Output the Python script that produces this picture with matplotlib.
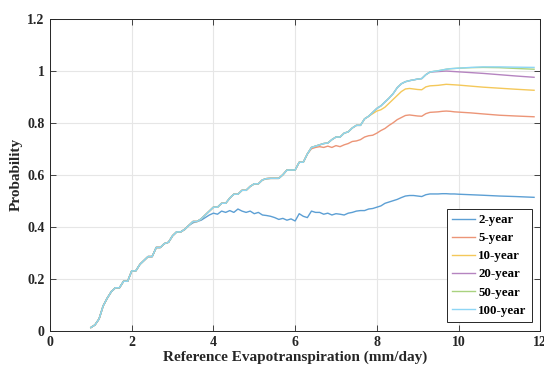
import matplotlib
matplotlib.use("Agg")
import matplotlib.pyplot as plt
import numpy as np

# ET0 sample grid (mm/day): fine steps up to 10, coarser along the flat tail
et0 = [round(1.0 + 0.1 * i, 1) for i in range(91)] + [10.3, 10.6, 11.0, 11.4, 11.85]

# probability shared by every return period at low ET0 (1.0 .. 3.4)
shared_low = [0.012, 0.022, 0.045, 0.095, 0.125, 0.15, 0.165, 0.165, 0.19, 0.19,
              0.23, 0.23, 0.255, 0.27, 0.285, 0.285, 0.32, 0.32, 0.335, 0.34,
              0.365, 0.38, 0.38, 0.39, 0.405]
# 3.5 .. 6.3
shared_mid = [0.42, 0.42, 0.43, 0.445, 0.46, 0.475, 0.475, 0.49, 0.49, 0.51,
              0.525, 0.525, 0.54, 0.54, 0.555, 0.565, 0.565, 0.58, 0.585, 0.586,
              0.586, 0.586, 0.60, 0.618, 0.618, 0.618, 0.648, 0.648, 0.68]
# 6.4 .. 7.8
shared_upper = [0.705, 0.71, 0.715, 0.72, 0.722, 0.735, 0.745, 0.745, 0.76, 0.765,
                0.78, 0.79, 0.79, 0.815, 0.825]
# 7.9 .. 9.3
shared_top = [0.84, 0.855, 0.865, 0.88, 0.895, 0.912, 0.935, 0.95, 0.958, 0.962,
              0.965, 0.968, 0.97, 0.985, 0.995]
# 9.4 .. 10.0
shared_peak = [0.998, 1.0, 1.003, 1.006, 1.008, 1.009, 1.01]

p_2yr = shared_low + [
    0.415, 0.42, 0.425, 0.435, 0.445, 0.452, 0.448, 0.46, 0.455, 0.462,
    0.455, 0.468, 0.46, 0.455, 0.46, 0.45, 0.455, 0.445, 0.443, 0.44,
    0.435, 0.428, 0.432, 0.425, 0.43, 0.422, 0.45, 0.44, 0.435, 0.46,
    0.455, 0.455, 0.448, 0.452, 0.445, 0.45, 0.448, 0.445, 0.452, 0.455,
    0.46, 0.462, 0.462, 0.468, 0.47, 0.475, 0.48, 0.49, 0.495, 0.50,
    0.505, 0.512, 0.518, 0.52, 0.52, 0.518, 0.516, 0.523, 0.526, 0.526,
    0.526, 0.527, 0.527, 0.526, 0.526, 0.525,
    0.523, 0.521, 0.518, 0.516, 0.513]
p_5yr = shared_low + shared_mid + [
    0.70, 0.705, 0.708, 0.705, 0.71, 0.705, 0.712, 0.708, 0.715, 0.72,
    0.728, 0.73, 0.735, 0.745, 0.75, 0.752, 0.76, 0.77, 0.778, 0.79,
    0.80, 0.812, 0.82, 0.828, 0.83, 0.828, 0.826, 0.825, 0.835, 0.84,
    0.841, 0.842, 0.844, 0.845, 0.844, 0.842, 0.841,
    0.838, 0.834, 0.829, 0.826, 0.823]
p_10yr = shared_low + shared_mid + shared_upper + [
    0.835, 0.845, 0.85, 0.86, 0.875, 0.89, 0.905, 0.92, 0.93, 0.932,
    0.93, 0.928, 0.927, 0.938, 0.942,
    0.943, 0.944, 0.946, 0.948, 0.947, 0.946, 0.945,
    0.941, 0.937, 0.933, 0.929, 0.925]
p_20yr = shared_low + shared_mid + shared_upper + shared_top + [
    0.996, 0.997, 0.998, 0.999, 0.998, 0.997, 0.996,
    0.993, 0.99, 0.985, 0.98, 0.975]
p_50yr = shared_low + shared_mid + shared_upper + shared_top + shared_peak + [
    1.012, 1.013, 1.012, 1.009, 1.006]
p_100yr = shared_low + shared_mid + shared_upper + shared_top + shared_peak + [
    1.013, 1.015, 1.015, 1.014, 1.013]

labels = ["2-year", "5-year", "10-year", "20-year", "50-year", "100-year"]
series = [p_2yr, p_5yr, p_10yr, p_20yr, p_50yr, p_100yr]
# default MATLAB line order, lightened
colors = ["#5c9fd4", "#ec9577", "#f4c85a", "#b584c0", "#a9d27f", "#8ed6f5"]

plt.rcParams["font.family"] = ["Liberation Serif", "DejaVu Serif"]
plt.rcParams["font.weight"] = "bold"

fig = plt.figure(figsize=(5.44, 3.69), dpi=100)
ax = fig.add_axes([0.092, 0.104, 0.901, 0.845])

for p, lab, c in zip(series, labels, colors):
    ax.plot(et0, p, color=c, lw=1.0, label=lab)

ax.set_xlim(0, 12)
ax.set_ylim(0, 1.2)
ax.set_xticks(np.arange(0, 13, 2))
ax.set_yticks([0, 0.2, 0.4, 0.6, 0.8, 1.0, 1.2])
ax.set_yticklabels(["0", "0.2", "0.4", "0.6", "0.8", "1", "1.2"])
ax.grid(True, color="#e6e6e6", lw=0.8)
ax.set_axisbelow(True)
ax.tick_params(direction="in", top=True, right=True, length=4, width=0.6,
               labelsize=10, colors="#262626", pad=4)
for lbl in ax.get_xticklabels() + ax.get_yticklabels():
    lbl.set_fontweight("bold")
for s in ax.spines.values():
    s.set_color("#262626")
    s.set_linewidth(0.7)

ax.set_xlabel("Reference Evapotranspiration (mm/day)", fontsize=11,
              fontweight="bold", color="#262626", labelpad=1)
ax.set_ylabel("Probability", fontsize=11, fontweight="bold", color="#262626", labelpad=3)

leg = ax.legend(loc="lower right", bbox_to_anchor=(0.988, 0.02), fontsize=9.3,
                frameon=True, fancybox=False, edgecolor="#262626", framealpha=1,
                handlelength=1.8, labelspacing=0.47, borderpad=0.4, handletextpad=0.25,
                borderaxespad=0.2)
leg.get_frame().set_linewidth(0.7)
for t in leg.get_texts():
    t.set_fontweight("bold")

fig.savefig("out.png", dpi=100)
